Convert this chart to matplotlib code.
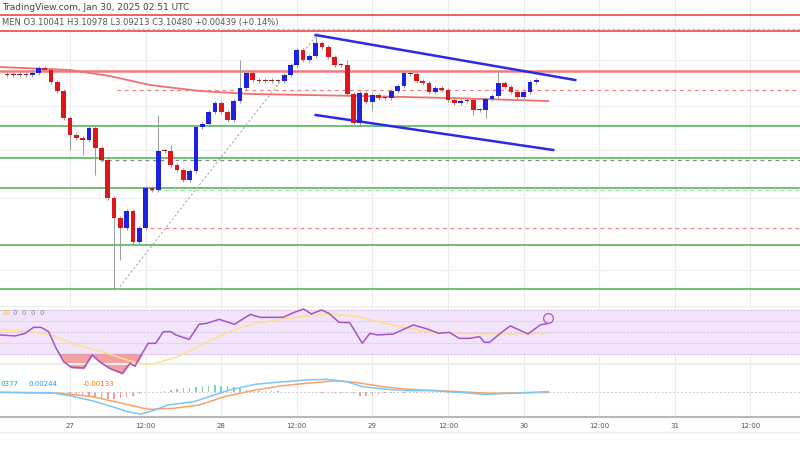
import matplotlib
matplotlib.use("Agg")
import matplotlib.pyplot as plt
import numpy as np

# ---------------- data ----------------
first_hour = -10
first_open = 3.125
closes = [3.126,3.125,3.126,3.125,3.127,
          3.132,3.130,3.118,3.109,3.082,3.065,3.062,3.060,3.072,3.052,
          3.040,3.002,2.982,2.972,2.989,2.958,2.972,3.012,3.010,3.049,
          3.049,3.035,3.030,3.020,3.029,3.073,3.076,3.088,3.097,3.088,
          3.080,3.099,3.112,3.127,3.120,3.119,3.120,3.119,3.119,3.125,
          3.135,3.150,3.140,3.144,3.157,3.153,3.143,3.135,3.135,3.106,
          3.077,3.107,3.098,3.105,3.102,3.102,3.109,3.114,3.127,3.126,
          3.119,3.117,3.108,3.112,3.110,3.100,3.097,3.099,3.100,3.090,
          3.090,3.101,3.104,3.117,3.113,3.108,3.103,3.108,3.118,3.120]
high_override = {37: 3.140, 49: 3.166, 78: 3.130, 24: 3.085, 26: 3.055, 54: 3.140}
low_override = {17: 2.910, 18: 2.940, 12: 3.045, 14: 3.025, 55: 3.076, 76: 3.082,
                58: 3.090, 74: 3.085, 10: 3.050}

ma_hours = [-11.1, 0.0, 6.3, 12.7, 20.6, 28.6, 46.0, 60.3, 75.9]
ma_vals = [3.133, 3.130, 3.124, 3.115, 3.109, 3.106, 3.104, 3.102, 3.099]

rsi_hours = [-11.1,-8.7,-7.1,-5.8,-4.6,-3.4,-2.2,-1.0,0.2,2.2,3.5,4.7,6.3,8.3,9.5,10.3,12.4,13.6,
             14.8,16.0,16.8,18.9,20.5,21.7,23.7,26.1,28.6,30.2,33.8,35.5,37.1,38.3,39.9,41.1,42.7,
             44.4,46.4,47.6,48.8,51.3,54.5,56.9,58.5,60.2,61.8,63.4,65.0,65.8,66.6,68.3,69.9,72.7,74.7,75.7]
rsi_vals = [47.3,46.4,48.8,54.2,54.2,50.3,35.2,23.0,17.9,17.3,29.1,23.0,17.0,12.4,21.5,19.1,39.7,39.7,
            50.3,50.3,47.3,43.3,57.0,57.9,61.5,57.0,66.0,63.3,63.3,67.6,70.9,66.4,70.0,67.0,58.8,
            58.5,39.7,48.8,47.3,48.2,56.4,52.4,48.8,49.7,44.2,44.2,45.8,40.6,40.6,48.8,55.5,48.2,56.7,57.3]
rsi_ma_hours = [-11.1,-6.3,-3.0,1.0,5.1,9.1,11.6,13.2,17.2,21.3,25.3,29.4,33.4,37.5,41.5,45.6,49.6,
                53.7,57.7,61.8,65.8,69.9,75.6]
rsi_ma_vals = [51.8,50.3,47.3,38.2,32.1,24.5,20.9,20.9,27.6,39.7,50.3,57.9,61.5,64.5,66.4,63.9,58.5,
               53.3,49.7,48.8,48.2,48.2,48.8]

macd_hours = [-11.1,-3.0,0.2,3.5,6.7,9.1,11.2,13.2,15.6,19.7,22.9,25.3,29.4,33.4,37.5,40.7,43.9,
              46.4,50.4,53.7,57.7,61.8,65.8,69.9,75.9]
macd_vals = [0,-1,-11,-25,-43,-58,-65,-55,-38,-28,-8,7,24,31,37,39,32,17,9,5,5,0,-6,-3,2]
sig_hours = [-11.1,-1.4,3.5,8.3,12.4,16.4,20.5,24.5,29.4,33.4,37.5,42.3,45.6,49.6,53.7,61.8,66.6,75.9]
sig_vals = [0,-3,-13,-33,-51,-48,-38,-13,7,19,27,35,29,17,9,2,-3,0]
hist_start = -11
hist_vals = [0,0,0,0,0,0,0,0,0,-1,
             -3,-5,-8,-10,-12,-15,-18,-20,-20,-18,-15,-10,
             -5,-2,0,2,
             5,8,10,12,14,16,18,20,22,20,18,15,12,8,
             6,5,4,3,3,2,2,2,1,1,0,-1,-1,-2,-2,-3,
             -6,-10,-12,-8,
             -4,-3,-2,-2,-1,-1,-1,0,0,0,0,-1,-1,-1,-1,-1,-1,0,0,1,1,1,1,1,1,1]

tick_hours = [0, 12, 24, 36, 48, 60, 72, 84, 96, 108]
tick_labels = ["27", "12:00", "28", "12:00", "29", "12:00", "30", "12:00", "31", "12:00"]

# ---------------- layout ----------------
W, H = 800, 450
fig = plt.figure(figsize=(8, 4.5), dpi=100)
XL = (-70 / 6.3, (800 - 70) / 6.3)

def rect(y0, y1):
    return [0, (H - y1) / H, 1, (y1 - y0) / H]

ax = fig.add_axes(rect(0, 296))
ar = fig.add_axes(rect(296, 378))
am = fig.add_axes(rect(378, 417))
for a in (ax, ar, am):
    a.set_xlim(*XL)
    a.patch.set_alpha(0)
    for s in a.spines.values():
        s.set_visible(False)
    a.set_yticks([])
    for th in tick_hours + [-12]:
        a.axvline(th, color="#ececec", lw=0.8, zorder=0)

ax.set_xticks([]); ar.set_xticks([])
ax.set_ylim(3.2 - 0.296, 3.2)

for lv in [3.140, 3.094, 3.050, 3.002, 2.930]:
    ax.axhline(lv, color="#f0f0f0", lw=0.8, zorder=0)

green = "#4caf50"; red = "#e53935"
ax.axhline(3.185, color=red, lw=1.1)
ax.axhline(3.169, color=red, lw=1.1)
ax.axhline(3.129, color="#f26b6b", lw=1.8, alpha=0.9)
for lv in [3.074, 3.042, 3.012, 2.955, 2.911]:
    ax.axhline(lv, color=green, lw=1.1)
ax.hlines(3.171, 7.5, XL[1], colors="#bbbbbb", lw=0.9, linestyles=(0, (2, 2)))
ax.hlines(3.110, 7.5, XL[1], colors="#f08080", lw=0.9, linestyles=(0, (3, 3)))
ax.hlines(3.040, 4.8, XL[1], colors="#888888", lw=0.9, linestyles=(0, (3, 3)))
ax.hlines(3.010, 12.7, XL[1], colors="#9fe0b0", lw=0.9, linestyles=(0, (3, 3)))
ax.hlines(2.972, 12.7, XL[1], colors="#f08080", lw=0.9, linestyles=(0, (3, 3)))

ax.plot(ma_hours, ma_vals, color="#f07070", lw=1.3)

opens = [first_open] + closes[:-1]
hours = np.arange(len(closes)) + first_hour
for i, (h, o, c) in enumerate(zip(hours, opens, closes)):
    up = c >= o
    col = "#1e22e0" if up else "#e0141b"
    hi = high_override.get(i, max(o, c) + 0.002)
    lo = low_override.get(i, min(o, c) - 0.002)
    ax.vlines(h, lo, hi, colors="#999999", lw=0.7, zorder=2)
    body = max(abs(c - o), 0.0012)
    ax.bar(h, body, bottom=min(o, c), width=0.75, color=col if abs(c - o) > 0.0012 else "#8a2020", zorder=3)

ax.plot([39.0, 80.2], [3.165, 3.120], color="#2a2ae8", lw=1.8)
ax.plot([39.0, 76.7], [3.085, 3.050], color="#2a2ae8", lw=1.8)
ax.plot([7.5, 39.4], [2.910, 3.167], color="#aaaaaa", lw=0.8, linestyle=(0, (2, 2)))

fig.text(0.002, 1 - 7 / H, "TradingView.com, Jan 30, 2025 02:51 UTC", fontsize=6.5, color="#444444", va="center")
fig.text(0.002, 1 - 22 / H, "MEN O3.10041 H3.10978 L3.09213 C3.10480 +0.00439 (+0.14%)",
         fontsize=6, color="#555555", va="center")

ar.set_ylim(50 + (332 - 378) / 1.1, 50 + (332 - 296) / 1.1)
ar.axhspan(30, 70, color="#f1e4fb", zorder=0)
for lv in (70, 30, 50):
    ar.axhline(lv, color="#c8b4d8", lw=0.6, linestyle=(0, (2, 2)))
ar.axhline(60, color="#e0d0ec", lw=0.6)
ar.axhline(40, color="#e0d0ec", lw=0.6)
ar.axhline(73.6, color="#eeeeee", lw=1)
ar.axhline(20.9, color="#eeeeee", lw=1.5)
rh = np.array(rsi_hours); rv = np.array(rsi_vals)
ar.fill_between(rh, rv, 30, where=rv < 30, interpolate=True, color="#f48a8a", alpha=0.8)
ar.plot(rsi_ma_hours, rsi_ma_vals, color="#ffe08a", lw=1.1)
ar.plot(rh, rv, color="#a454c8", lw=1.1)
ar.text(-10.9, 67.5, "70", fontsize=5, color="#e6c04a", va="center")
ar.text(-9.0, 67.5, "0  0  0  0", fontsize=5, color="#888888", va="center")
ar.plot([75.8], [63.0], marker="o", ms=7, mfc="none", mec="#a454c8", mew=0.9, clip_on=False)

am.set_ylim(307 - 381, 307 - 264)
am.axhline(0, color="#cccccc", lw=0.7, linestyle=(0, (2, 2)))
hv = np.array(hist_vals)
hh = np.arange(len(hv)) + hist_start
am.bar(hh, hv, width=0.25, color=np.where(hv >= 0, "#7fcfc4", "#f39a9a"))
am.plot(sig_hours, sig_vals, color="#ffa060", lw=1.1)
am.plot(macd_hours, macd_vals, color="#7cc6f7", lw=1.1)
am.text(-11.0, 26, "0377", fontsize=5, color="#26a69a", va="center")
am.text(-6.6, 26, "0.00244", fontsize=5, color="#2196f3", va="center")
am.text(2.0, 26, "-0.00133", fontsize=5, color="#ff6d00", va="center")

am.spines["bottom"].set_visible(True)
am.spines["bottom"].set_color("#b8b8b8")
am.spines["bottom"].set_linewidth(1.5)
am.set_xticks(tick_hours)
am.set_xticklabels(tick_labels)
am.tick_params(axis="x", length=0, labelsize=5, labelcolor="#555555", pad=4)
fig.add_artist(plt.Line2D([0, 1], [1 - 432 / H] * 2, color="#eeeeee", lw=1))

fig.savefig("out.png", dpi=100)
